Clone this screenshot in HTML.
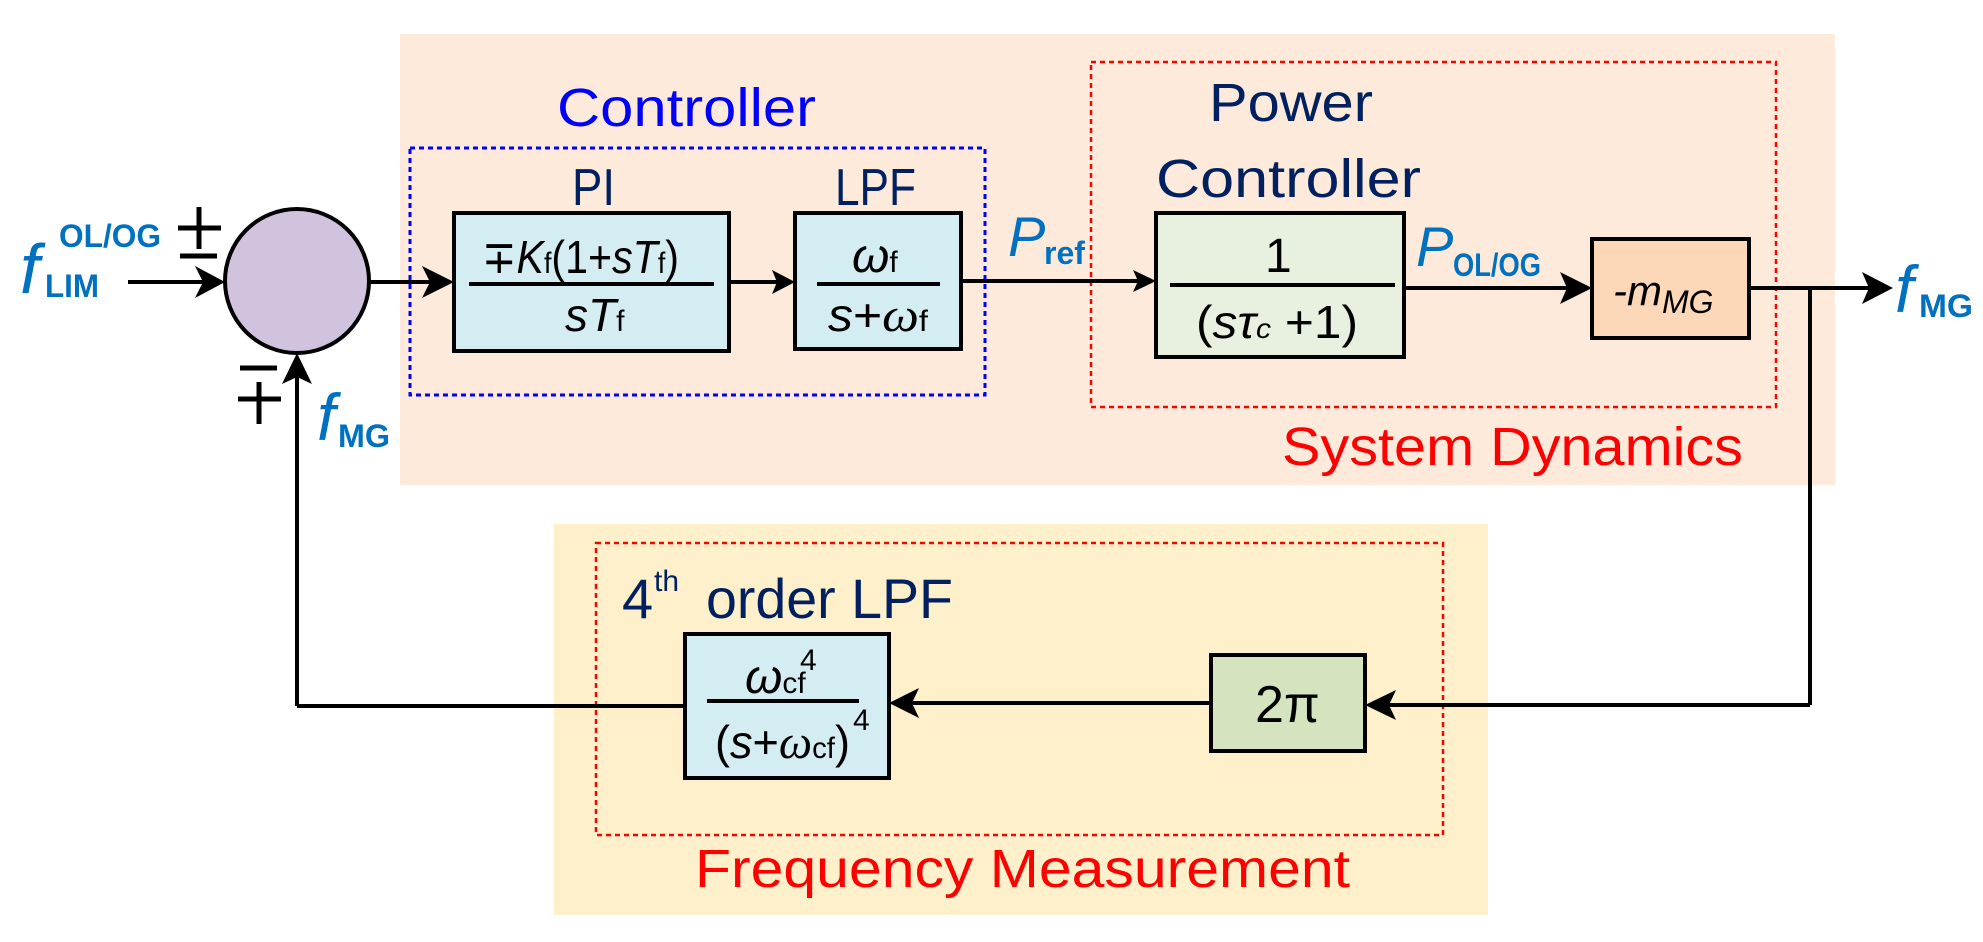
<!DOCTYPE html>
<html><head><meta charset="utf-8"><style>
html,body{margin:0;padding:0;background:#fff;}
svg{display:block;}
text{font-family:"Liberation Sans",sans-serif;}
</style></head><body>
<svg width="1983" height="942" viewBox="0 0 1983 942" xmlns="http://www.w3.org/2000/svg">
<!-- backgrounds -->
<rect x="400" y="34" width="1435" height="451" fill="#fdeadb"/>
<rect x="554" y="524" width="934" height="391" fill="#fdf0cb"/>
<!-- dotted boxes -->
<rect x="410" y="148" width="575" height="247" fill="none" stroke="#0000ff" stroke-width="3" stroke-dasharray="5,4"/>
<rect x="1091" y="62" width="685" height="345" fill="none" stroke="#ff0000" stroke-width="2.5" stroke-dasharray="5,4"/>
<rect x="596" y="543" width="847" height="292" fill="none" stroke="#ff0000" stroke-width="2.5" stroke-dasharray="5,4"/>

<!-- titles -->
<text x="557" y="126" font-size="54" fill="#0000ff" textLength="259" lengthAdjust="spacingAndGlyphs">Controller</text>
<text x="572" y="205" font-size="52" fill="#002060" textLength="43" lengthAdjust="spacingAndGlyphs">PI</text>
<text x="835" y="205" font-size="52" fill="#002060" textLength="81" lengthAdjust="spacingAndGlyphs">LPF</text>
<text x="1209" y="121" font-size="54" fill="#002060" textLength="164" lengthAdjust="spacingAndGlyphs">Power</text>
<text x="1156" y="197" font-size="54" fill="#002060" textLength="265" lengthAdjust="spacingAndGlyphs">Controller</text>
<text x="1282" y="465" font-size="54" fill="#ff0000" textLength="461" lengthAdjust="spacingAndGlyphs">System Dynamics</text>
<text x="695" y="887" font-size="54" fill="#ff0000" textLength="655" lengthAdjust="spacingAndGlyphs">Frequency Measurement</text>
<text x="622" y="618" font-size="56" fill="#002060">4</text>
<text x="654" y="591" font-size="30" fill="#002060">th</text>
<text x="706" y="618" font-size="56" fill="#002060" textLength="247" lengthAdjust="spacingAndGlyphs">order LPF</text>

<!-- blocks -->
<ellipse cx="297" cy="281" rx="72" ry="72" fill="#d1c3dd" stroke="#000" stroke-width="4"/>
<rect x="454" y="213" width="275" height="138" fill="#d4edf2" stroke="#000" stroke-width="4"/>
<rect x="795" y="213" width="166" height="136" fill="#d4edf2" stroke="#000" stroke-width="4"/>
<rect x="1156" y="213" width="248" height="144" fill="#e8f1df" stroke="#000" stroke-width="4"/>
<rect x="1592" y="239" width="157" height="99" fill="#fcd7b8" stroke="#000" stroke-width="4"/>
<rect x="685" y="634" width="204" height="144" fill="#d4edf2" stroke="#000" stroke-width="4"/>
<rect x="1211" y="655" width="154" height="96" fill="#d5e3bf" stroke="#000" stroke-width="4"/>

<!-- fraction lines -->
<line x1="469" y1="284" x2="714" y2="284" stroke="#000" stroke-width="4"/>
<line x1="817" y1="284" x2="940" y2="284" stroke="#000" stroke-width="4"/>
<line x1="1170" y1="285" x2="1395" y2="285" stroke="#000" stroke-width="4"/>
<line x1="707" y1="701" x2="859" y2="701" stroke="#000" stroke-width="4"/>

<!-- block text -->
<text x="482" y="273" font-size="46" fill="#000" textLength="197" lengthAdjust="spacingAndGlyphs">∓<tspan font-style="italic">K</tspan><tspan font-size="30">f</tspan>(1+<tspan font-style="italic">sT</tspan><tspan font-size="30">f</tspan>)</text>
<text x="565" y="331" font-size="46" fill="#000"><tspan font-style="italic">sT</tspan><tspan font-size="30">f</tspan></text>
<text x="852" y="272" font-size="48" fill="#000" font-family="Liberation Serif" font-style="italic">ω<tspan font-size="30" font-style="normal" font-family="Liberation Sans">f</tspan></text>
<text x="828" y="331" font-size="46" fill="#000" textLength="100" lengthAdjust="spacingAndGlyphs"><tspan font-style="italic">s</tspan>+<tspan font-family="Liberation Serif" font-style="italic" font-size="48">ω</tspan><tspan font-size="30">f</tspan></text>
<text x="1265" y="272" font-size="48" fill="#000">1</text>
<text x="1196" y="338" font-size="46" fill="#000" textLength="162" lengthAdjust="spacingAndGlyphs">(<tspan font-style="italic">sτ</tspan><tspan font-size="28" font-style="italic">c</tspan> +1)</text>
<text x="1613" y="305" font-size="42" fill="#000" font-style="italic">-m<tspan font-size="32" dy="8">MG</tspan></text>
<text x="745" y="693" font-size="48" fill="#000" font-family="Liberation Serif" font-style="italic">ω<tspan font-size="30" font-style="normal" font-family="Liberation Sans">cf</tspan></text>
<text x="800" y="670" font-size="30" fill="#000">4</text>
<text x="715" y="758" font-size="46" fill="#000" textLength="135" lengthAdjust="spacingAndGlyphs">(<tspan font-style="italic">s</tspan>+<tspan font-family="Liberation Serif" font-style="italic" font-size="48">ω</tspan><tspan font-size="30">cf</tspan>)</text>
<text x="853" y="730" font-size="30" fill="#000">4</text>
<text x="1255" y="722" font-size="52" fill="#000">2π</text>

<!-- connectors -->
<g stroke="#000" stroke-width="4" fill="none">
<line x1="128" y1="282" x2="205" y2="282"/>
<line x1="370" y1="282" x2="434" y2="282"/>
<line x1="729" y1="282" x2="778" y2="282"/>
<line x1="961" y1="281" x2="1138" y2="281"/>
<line x1="1404" y1="288" x2="1570" y2="288"/>
<line x1="1749" y1="288" x2="1872" y2="288"/>
<line x1="1810" y1="288" x2="1810" y2="705"/>
<line x1="1810" y1="705" x2="1385" y2="705"/>
<line x1="1211" y1="703" x2="910" y2="703"/>
<line x1="685" y1="706" x2="297" y2="706"/>
<line x1="297" y1="706" x2="297" y2="374"/>
</g>
<g fill="#000">
<polygon points="225,282 195,266 203,282 195,298"/>
<polygon points="454,282 422,266 430,282 422,298"/>
<polygon points="795,282 772,270 777,282 772,294"/>
<polygon points="1156,281 1133,270 1138,281 1133,292"/>
<polygon points="1592,288 1560,272 1567,288 1560,304"/>
<polygon points="1893,288 1862,272 1869,288 1862,304"/>
<polygon points="1365,705 1396,690 1389,705 1396,720"/>
<polygon points="889,703 919,688 912,703 919,718"/>
<polygon points="297,353 282,384 297,377 312,384"/>
</g>

<!-- signal labels -->
<g fill="#0070c0">
<text x="20" y="293" font-size="70" font-style="italic">f</text>
<text x="45" y="297" font-size="32" font-weight="bold" textLength="54" lengthAdjust="spacingAndGlyphs">LIM</text>
<text x="59" y="247" font-size="32" font-weight="bold" textLength="102" lengthAdjust="spacingAndGlyphs">OL/OG</text>
<text x="317" y="440" font-size="66" font-style="italic">f</text>
<text x="338" y="447" font-size="32" font-weight="bold" textLength="52" lengthAdjust="spacingAndGlyphs">MG</text>
<text x="1008" y="256" font-size="56" font-style="italic">P</text>
<text x="1044" y="264" font-size="32" font-weight="bold">ref</text>
<text x="1416" y="266" font-size="56" font-style="italic">P</text>
<text x="1453" y="276" font-size="32" font-weight="bold" textLength="88" lengthAdjust="spacingAndGlyphs">OL/OG</text>
<text x="1895" y="312" font-size="66" font-style="italic">f</text>
<text x="1919" y="317" font-size="32" font-weight="bold" textLength="54" lengthAdjust="spacingAndGlyphs">MG</text>
</g>
<!-- signs -->
<g stroke="#000" stroke-width="5">
<line x1="178" y1="228" x2="221" y2="228"/>
<line x1="199" y1="207" x2="199" y2="249"/>
<line x1="180" y1="256" x2="217" y2="256"/>
<line x1="240" y1="368" x2="277" y2="368"/>
<line x1="238" y1="399" x2="281" y2="399"/>
<line x1="259" y1="382" x2="259" y2="424"/>
</g>
</svg>
</body></html>
